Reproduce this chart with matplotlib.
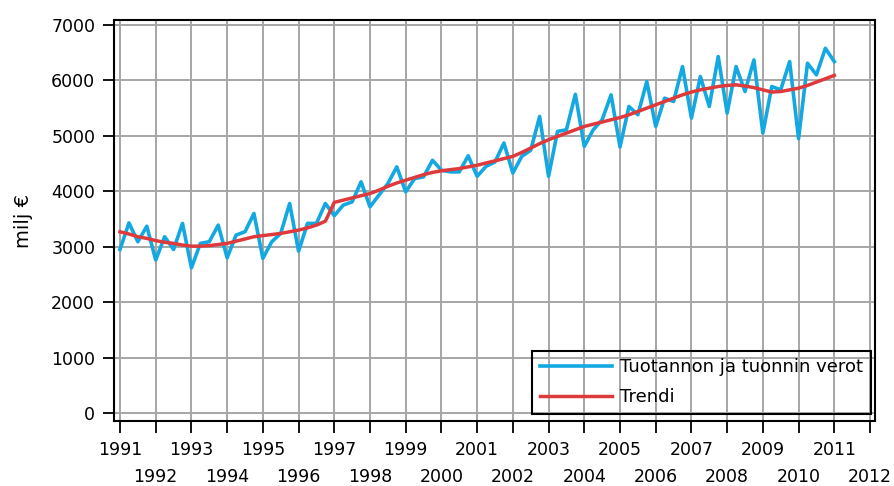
import numpy as np
import matplotlib
matplotlib.use('Agg')
import matplotlib.pyplot as plt

plt.rcParams['font.family'] = ['DejaVu Sans']

# Quarterly data, 1991 Q1 .. 2011 Q1 (milj €)
start_year = 1991
tax = [
    2950, 3430, 3090, 3370,   # 1991
    2760, 3180, 2950, 3420,   # 1992
    2620, 3060, 3090, 3390,   # 1993
    2800, 3210, 3270, 3600,   # 1994
    2790, 3090, 3240, 3780,   # 1995
    2920, 3420, 3420, 3780,   # 1996
    3560, 3750, 3810, 4170,   # 1997
    3720, 3930, 4140, 4440,   # 1998
    3990, 4230, 4260, 4560,   # 1999
    4380, 4350, 4350, 4640,   # 2000
    4270, 4450, 4530, 4870,   # 2001
    4330, 4630, 4740, 5350,   # 2002
    4270, 5080, 5110, 5750,   # 2003
    4810, 5110, 5290, 5740,   # 2004
    4800, 5530, 5380, 5980,   # 2005
    5170, 5680, 5620, 6250,   # 2006
    5320, 6070, 5530, 6430,   # 2007
    5410, 6250, 5800, 6370,   # 2008
    5050, 5890, 5830, 6340,   # 2009
    4950, 6310, 6100, 6580,   # 2010
    6340,                     # 2011
]
trend = [
    3270, 3230, 3180, 3150,
    3110, 3080, 3060, 3030,
    3010, 3010, 3020, 3040,
    3060, 3100, 3140, 3180,
    3200, 3220, 3240, 3270,
    3300, 3340, 3390, 3460,
    3800, 3840, 3880, 3920,
    3960, 4020, 4090, 4150,
    4200, 4250, 4300, 4340,
    4370, 4390, 4410, 4440,
    4470, 4510, 4550, 4590,
    4630, 4700, 4780, 4860,
    4930, 4990, 5050, 5110,
    5170, 5210, 5250, 5290,
    5330, 5380, 5440, 5500,
    5560, 5620, 5680, 5740,
    5790, 5830, 5860, 5890,
    5910, 5920, 5900, 5870,
    5830, 5790, 5800, 5830,
    5860, 5910, 5970, 6030,
    6090,
]
odd_years = list(range(1991, 2012, 2))
even_years = list(range(1992, 2013, 2))
y_ticks = [0, 1000, 2000, 3000, 4000, 5000, 6000, 7000]
series_labels = ['Tuotannon ja tuonnin verot', 'Trendi']
y_label = 'milj €'

t = start_year + np.arange(len(tax)) / 4.0

fig = plt.figure(figsize=(8.95, 4.86), dpi=100)
ax = fig.add_axes([114 / 895, 1 - 421 / 486, 761 / 895, 401 / 486])

ax.plot(t, tax, color='#14a8e2', lw=2.6, label=series_labels[0], zorder=3)
ax.plot(t, trend, color='#de3a3c', lw=2.5, label=series_labels[1], zorder=4)

ax.set_xlim(1990.832, 2012.14)
ax.set_ylim(-144, 7090)

ax.set_xticks(odd_years)
ax.set_xticklabels([str(y) for y in odd_years])
ax.set_xticks(even_years, minor=True)
ax.set_xticklabels([str(y) for y in even_years], minor=True)
ax.set_yticks(y_ticks)
ax.set_yticklabels([str(v) for v in y_ticks])

ax.tick_params(axis='x', which='both', length=8.6, width=1.3, direction='out',
               labelsize=12.5, colors='black')
ax.tick_params(axis='x', which='major', pad=6)
ax.tick_params(axis='x', which='minor', pad=25.5)
ax.tick_params(axis='y', which='major', length=8, width=1.3, direction='out',
               labelsize=12.5, pad=5.5)

ax.xaxis.grid(True, which='both', color='#a6a6a6', lw=1.4)
ax.yaxis.grid(True, which='major', color='#a6a6a6', lw=1.4)
ax.set_axisbelow(True)

for s in ax.spines.values():
    s.set_color('black')
    s.set_linewidth(1.5)

ax.set_ylabel(y_label, fontsize=14, labelpad=13)

leg = ax.legend(loc='lower right', bbox_to_anchor=(0.9947, 0.0175),
                borderaxespad=0, frameon=True, fancybox=False,
                facecolor='none', edgecolor='black', framealpha=1,
                prop={'family': 'DejaVu Sans', 'size': 13},
                handlelength=4.0, handletextpad=0.45, borderpad=0.42,
                labelspacing=0.68)
leg.get_frame().set_linewidth(1.5)

fig.savefig('out.png', dpi=100)
